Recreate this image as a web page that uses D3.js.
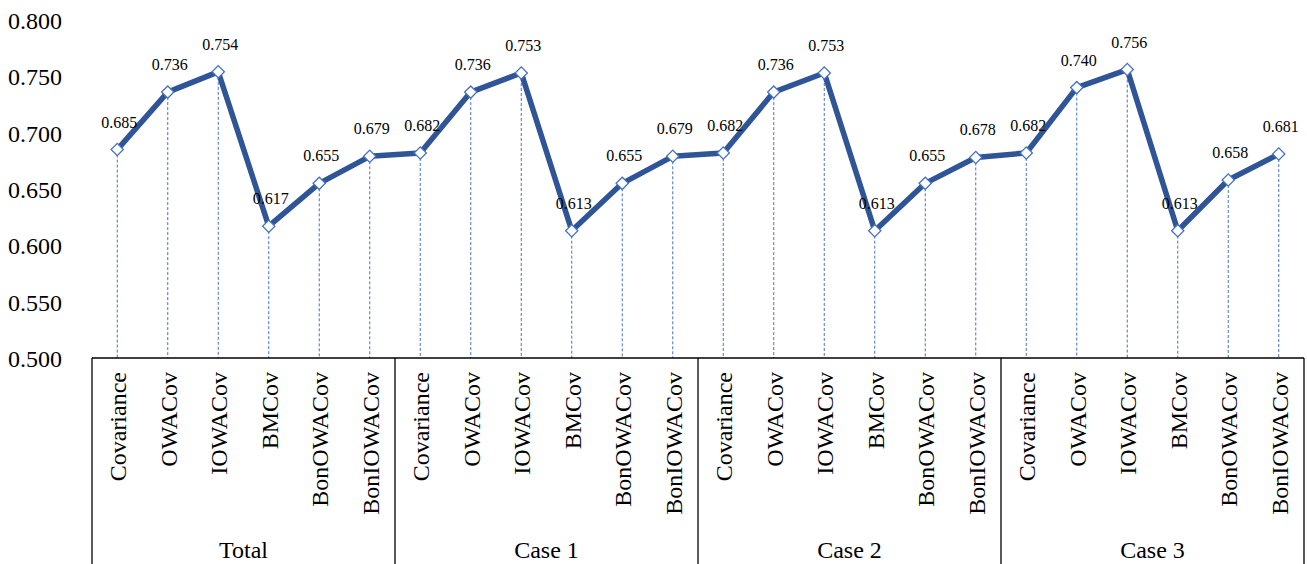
<!DOCTYPE html>
<html>
<head>
<meta charset="utf-8">
<script src="https://cdn.jsdelivr.net/npm/d3@7"></script>
<style>
  html, body { margin: 0; padding: 0; background: #fff; }
  svg { display: block; }
</style>
</head>
<body>
<svg id="chart" width="1307" height="564"></svg>
<script>
// Accuracy of each covariance estimator, grouped by dataset
const groups = ["Total", "Case 1", "Case 2", "Case 3"];
const methods = ["Covariance", "OWACov", "IOWACov", "BMCov", "BonOWACov", "BonIOWACov"];
const totalValues = [0.685, 0.736, 0.754, 0.617, 0.655, 0.679];
const case1Values = [0.682, 0.736, 0.753, 0.613, 0.655, 0.679];
const case2Values = [0.682, 0.736, 0.753, 0.613, 0.655, 0.678];
const case3Values = [0.682, 0.740, 0.756, 0.613, 0.658, 0.681];
const yTicks = [0.500, 0.550, 0.600, 0.650, 0.700, 0.750, 0.800];

(function () {
  const serif = "'Liberation Serif', 'Times New Roman', serif";
  const groupValues = [totalValues, case1Values, case2Values, case3Values];
  const points = [];
  groups.forEach((g, gi) => {
    methods.forEach((m, mi) => {
      points.push({ key: g + "|" + m, group: g, method: m, value: groupValues[gi][mi] });
    });
  });

  const svg = d3.select("#chart").style("font-family", serif);
  const plotLeft = 92, plotRight = 1304, plotTop = 20, axisY = 358, plotBottom = 564;

  const x = d3.scaleBand()
    .domain(points.map(d => d.key))
    .range([plotLeft, plotRight])
    .paddingInner(0).paddingOuter(0);
  const cx = d => x(d.key) + x.bandwidth() / 2;

  const y = d3.scaleLinear().domain([0.5, 0.8]).range([axisY, plotTop]);

  // y tick labels only (no axis line)
  const yAxis = d3.axisLeft(y).tickValues(yTicks).tickFormat(d3.format(".3f")).tickSize(0).tickPadding(0);
  const yg = svg.append("g").attr("transform", "translate(62,0)").call(yAxis);
  yg.attr("font-family", null).attr("font-size", null);
  yg.select(".domain").remove();
  yg.selectAll("text")
    .style("font-family", serif)
    .attr("font-size", 24)
    .attr("fill", "#000")
    .attr("dy", "0.35em");

  // dashed drop lines from each point to the category axis
  svg.append("g").selectAll("line")
    .data(points).join("line")
    .attr("x1", cx).attr("x2", cx)
    .attr("y1", d => y(d.value)).attr("y2", axisY)
    .attr("stroke", "#4472C4").attr("stroke-width", 1)
    .attr("stroke-dasharray", "3,2");

  // category box frame
  const frame = svg.append("g").attr("stroke", "#000").attr("stroke-width", 1.3).attr("fill", "none");
  frame.append("line").attr("x1", plotLeft).attr("x2", plotRight).attr("y1", axisY).attr("y2", axisY);
  const groupEdges = groups.map(g => x(g + "|" + methods[0]));
  groupEdges.push(plotRight);
  groupEdges.forEach(ex => {
    frame.append("line").attr("x1", ex).attr("x2", ex).attr("y1", axisY).attr("y2", plotBottom);
  });

  // rotated method labels
  svg.append("g").selectAll("text")
    .data(points).join("text")
    .attr("transform", d => `translate(${cx(d) + 9},372) rotate(-90)`)
    .attr("text-anchor", "end")
    .attr("font-size", 24)
    .attr("fill", "#000")
    .text(d => d.method);

  // group labels
  svg.append("g").selectAll("text")
    .data(groups).join("text")
    .attr("x", (g, i) => (groupEdges[i] + groupEdges[i + 1]) / 2)
    .attr("y", 558)
    .attr("text-anchor", "middle")
    .attr("font-size", 24)
    .attr("fill", "#000")
    .text(g => g);

  // main line
  const line = d3.line().x(cx).y(d => y(d.value));
  svg.append("path")
    .datum(points)
    .attr("d", line)
    .attr("fill", "none")
    .attr("stroke", "#2F5597")
    .attr("stroke-width", 5.5)
    .attr("stroke-linejoin", "round");

  // diamond markers
  svg.append("g").selectAll("path")
    .data(points).join("path")
    .attr("transform", d => `translate(${cx(d)},${y(d.value)}) rotate(45)`)
    .attr("d", d3.symbol().type(d3.symbolSquare).size(75))
    .attr("fill", "#fff")
    .attr("stroke", "#4472C4")
    .attr("stroke-width", 1.3);

  // value labels
  svg.append("g").selectAll("text")
    .data(points).join("text")
    .attr("x", d => cx(d) + 2)
    .attr("y", d => y(d.value) - 22)
    .attr("text-anchor", "middle")
    .attr("font-size", 16)
    .attr("fill", "#000")
    .text(d => d3.format(".3f")(d.value));
})();
</script>
</body>
</html>
